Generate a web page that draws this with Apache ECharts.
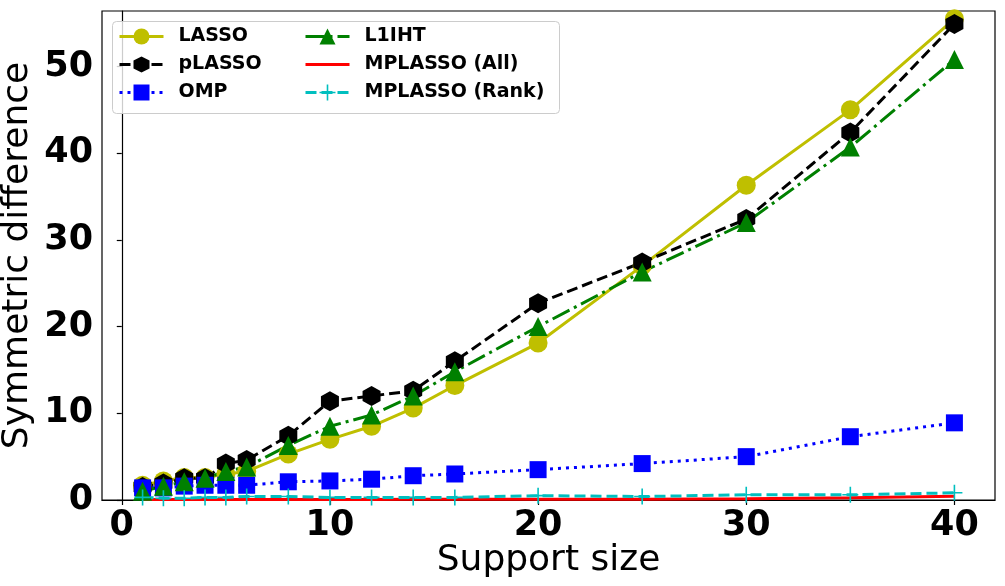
<!DOCTYPE html>
<html>
<head>
<meta charset="utf-8">
<script src="https://cdn.jsdelivr.net/npm/echarts@6/dist/echarts.min.js"></script>
<style>
  html, body { margin: 0; padding: 0; background: #fff; }
  #main { width: 1005px; height: 586px; }
</style>
</head>
<body>
<div id="main"></div>
<script>
// support sizes on the x axis
const supportSizes = [1, 2, 3, 4, 5, 6, 8, 10, 12, 14, 16, 20, 25, 30, 35, 40];

// symmetric difference per method
const lasso = [1.7, 2.2, 2.6, 2.6, 3.0, 3.3, 5.3, 7.0, 8.5, 10.6, 13.2, 18.1, 27.0, 36.3, 45.0, 55.5];
const plasso = [1.5, 1.9, 2.5, 2.5, 4.2, 4.6, 7.4, 11.4, 12.0, 12.6, 16.0, 22.7, 27.4, 32.4, 42.4, 54.9];
const omp = [1.4, 1.4, 1.6, 1.7, 1.7, 1.7, 2.1, 2.2, 2.4, 2.8, 3.0, 3.5, 4.2, 5.0, 7.3, 8.9];
const l1iht = [1.0, 1.6, 2.1, 2.5, 3.3, 3.8, 6.3, 8.5, 9.8, 12.0, 14.8, 20.0, 26.3, 32.0, 40.7, 50.8];
const mplassoAll = [0.05, 0.05, 0.05, 0.05, 0.05, 0.05, 0.05, 0.05, 0.05, 0.1, 0.1, 0.1, 0.1, 0.15, 0.25, 0.44];
const mplassoRank = [0.3, 0.2, 0.2, 0.3, 0.3, 0.4, 0.4, 0.3, 0.3, 0.3, 0.3, 0.5, 0.4, 0.6, 0.6, 0.83];

const xTicks = [0, 10, 20, 30, 40];
const yTicks = [0, 10, 20, 30, 40, 50];

const font = 'DejaVu Sans';
const hexagon = 'path://M0,-1 L0.866,-0.5 L0.866,0.5 L0,1 L-0.866,0.5 L-0.866,-0.5 Z';
const plus = 'path://M-0.1,-1 L0.1,-1 L0.1,-0.1 L1,-0.1 L1,0.1 L0.1,0.1 L0.1,1 L-0.1,1 L-0.1,0.1 L-1,0.1 L-1,-0.1 L-0.1,-0.1 Z';

const pairs = vals => supportSizes.map((x, i) => [x, vals[i]]);

function line(name, vals, color, type, symbol, size) {
  return {
    name: name,
    type: 'line',
    data: pairs(vals),
    symbol: symbol,
    symbolSize: size,
    showSymbol: symbol !== 'none',
    color: color,
    itemStyle: { color: color },
    lineStyle: { color: color, width: 3, type: type },
    emphasis: { disabled: true },
    animation: false
  };
}

const chart = echarts.init(document.getElementById('main'));

const legendCommon = {
  orient: 'vertical',
  top: 27,
  padding: 0,
  itemWidth: 44,
  itemHeight: 20,
  itemGap: 9,
  selectedMode: false,
  lineStyle: { width: 3 },
  textStyle: { fontFamily: font, fontWeight: 'bold', fontSize: 19, color: '#000', padding: [0, 0, 0, 10] }
};

const option = {
  backgroundColor: '#fff',
  textStyle: { fontFamily: font },
  grid: {
    left: 102, right: 10, top: 11, bottom: 86,
    outerBoundsMode: 'none',
    containLabel: false,
    show: true, borderColor: '#000', borderWidth: 1.2, backgroundColor: 'transparent'
  },
  graphic: [{
    type: 'rect',
    z: 3,
    shape: { x: 112.5, y: 21.5, width: 447, height: 92, r: 4 },
    style: { fill: 'rgba(255,255,255,0.8)', stroke: '#cccccc', lineWidth: 1 }
  }],
  legend: [
    Object.assign({}, legendCommon, { left: 118, data: ['LASSO', 'pLASSO', 'OMP'] }),
    Object.assign({}, legendCommon, {
      left: 304,
      data: ['L1IHT', { name: 'MPLASSO (All)', itemStyle: { opacity: 0 } }, 'MPLASSO (Rank)']
    })
  ],
  xAxis: {
    type: 'value',
    min: -0.95,
    max: 41.95,
    name: 'Support size',
    nameLocation: 'middle',
    nameGap: 43,
    nameMoveOverlap: false,
    nameTextStyle: { fontFamily: font, fontSize: 36, color: '#000' },
    axisLine: { show: true, lineStyle: { color: '#000', width: 1.2 } },
    axisTick: { show: true, length: 5, customValues: xTicks, lineStyle: { color: '#000', width: 1.2 } },
    axisLabel: { customValues: xTicks, margin: 8, fontFamily: font, fontWeight: 'bold', fontSize: 35, color: '#000' },
    splitLine: { show: false }
  },
  yAxis: {
    type: 'value',
    min: 0,
    max: 56.4,
    name: 'Symmetric difference',
    nameLocation: 'middle',
    nameGap: 66,
    nameMoveOverlap: false,
    nameTextStyle: { fontFamily: font, fontSize: 36, color: '#000' },
    axisLine: { show: true, lineStyle: { color: '#000', width: 1.2 } },
    axisTick: { show: true, length: 5, customValues: yTicks, lineStyle: { color: '#000', width: 1.2 } },
    axisLabel: { customValues: yTicks, margin: 9, fontFamily: font, fontWeight: 'bold', fontSize: 35, color: '#000' },
    splitLine: { show: false }
  },
  series: [
    line('LASSO', lasso, '#bfbf00', 'solid', 'circle', 19),
    line('pLASSO', plasso, '#000000', [11, 5], hexagon, [18, 20]),
    line('OMP', omp, '#0000ff', [3, 5], 'rect', 17),
    line('L1IHT', l1iht, '#008000', [19, 5, 3, 5], 'triangle', 19),
    line('MPLASSO (All)', mplassoAll, '#ff0000', 'solid', 'none', 0),
    line('MPLASSO (Rank)', mplassoRank, '#00bfbf', [11, 5], plus, 16)
  ]
};

chart.setOption(option);
</script>
</body>
</html>
